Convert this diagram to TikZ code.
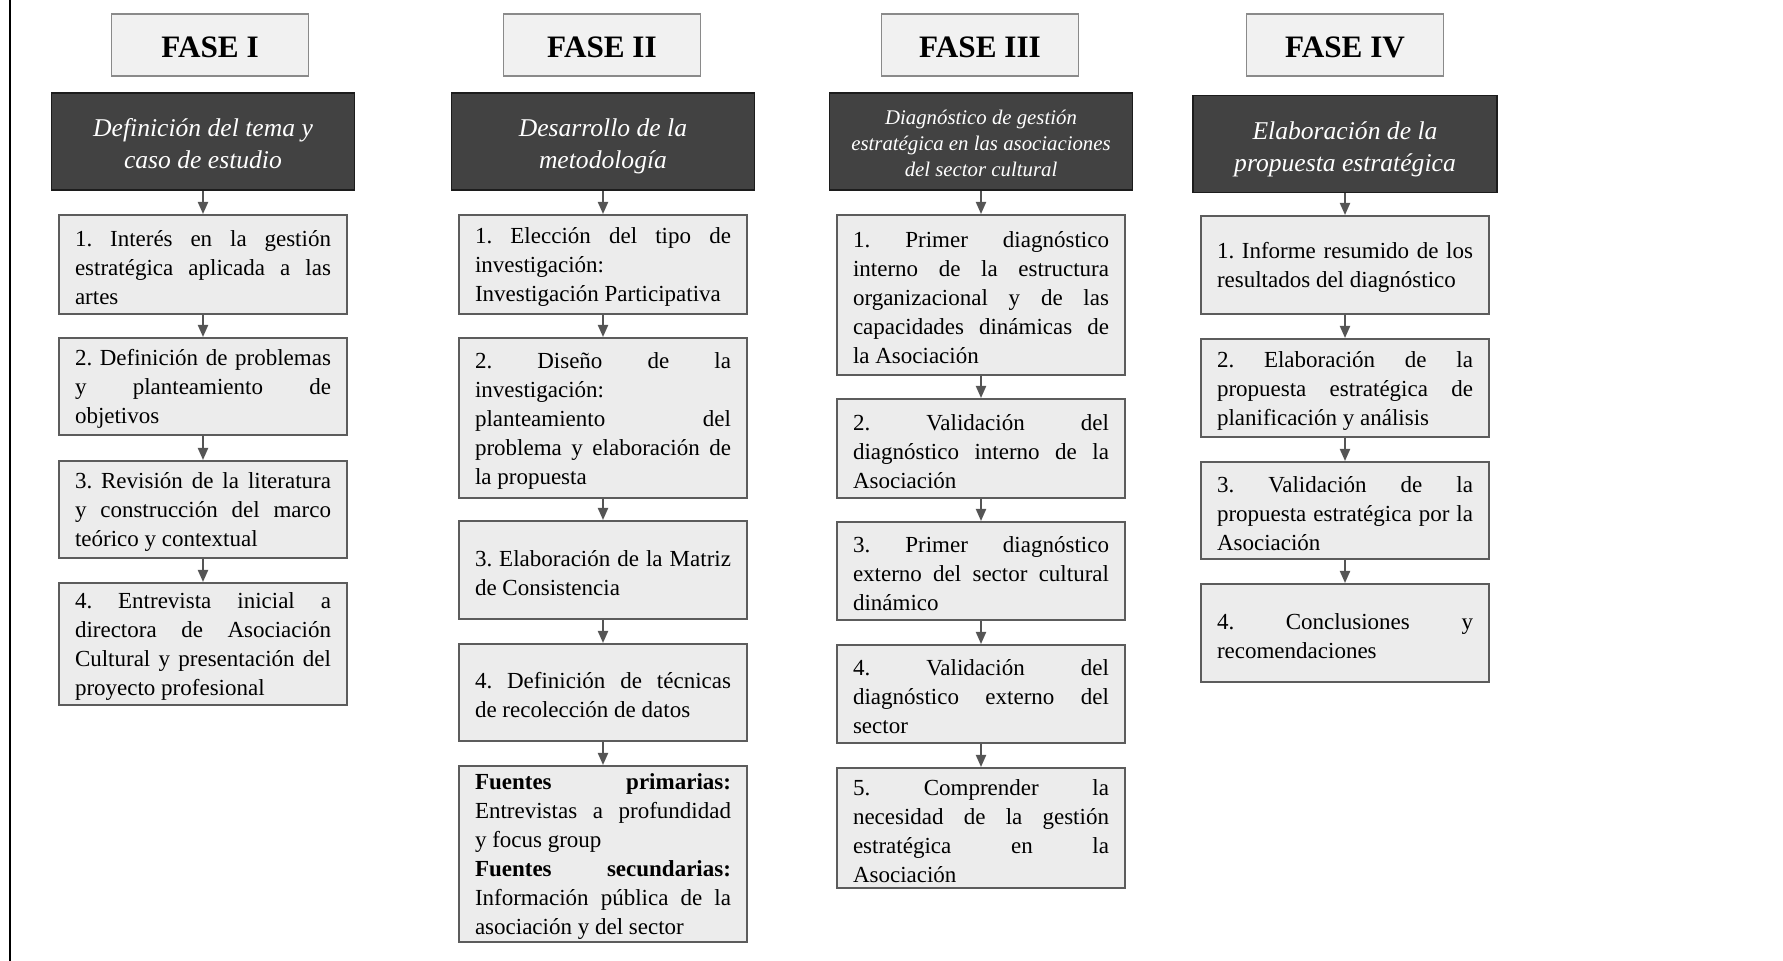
\documentclass[tikz,border=0pt]{standalone}
\usepackage{fontspec}
\setmainfont{Liberation Serif}
\usetikzlibrary{arrows.meta}

\definecolor{fasefill}{HTML}{F1F1F1}
\definecolor{fasedraw}{HTML}{8A8A8A}
\definecolor{headfill}{HTML}{424242}
\definecolor{headdraw}{HTML}{1C1C1C}
\definecolor{stepfill}{HTML}{ECECEC}
\definecolor{stepdraw}{HTML}{5C5C5C}
\definecolor{arrowcol}{HTML}{555555}

% a block of stacked lines, 128pt wide, with a little room above
\newcommand\stp[1]{\vbox{\hsize=128pt\relax\kern2.8pt #1}}
% one justified line (spaces stretched evenly) and one flush-left line
\newcommand\jline[1]{\hbox to\hsize{\frenchspacing\spaceskip=.25em plus 1fil\relax #1}}
\newcommand\lline[1]{\hbox to\hsize{#1\hfil}}
% heading text: a taller top strut sets it slightly low in its box
\newcommand\hd[1]{\rule{0pt}{\baselineskip}#1\strut}

\tikzset{
  fasebox/.style={draw=fasedraw, fill=fasefill, line width=0.8pt,
    minimum width=98.5pt, minimum height=31pt, inner sep=0pt,
    text height=12.5pt, text depth=0pt,
    font=\fontsize{15.6}{18}\selectfont\bfseries},
  headbox/.style={draw=headdraw, fill=headfill, line width=0.8pt, text=white,
    minimum width=151.5pt, minimum height=48.5pt, inner sep=0pt, align=center,
    font=\fontsize{12.8}{16}\selectfont\itshape},
  smallhead/.style={font=\fontsize{10.4}{12.8}\selectfont\itshape},
  stepbox/.style={draw=stepdraw, fill=stepfill, line width=1pt,
    minimum width=144pt, inner sep=0pt,
    font=\fontsize{11.5}{14.5}\selectfont},
  arr/.style={draw=arrowcol, line width=1pt, -{Triangle[length=6pt,width=5pt]}}
}

\begin{document}
\begin{tikzpicture}[x=0.5pt, y=-0.5pt]
\useasboundingbox (0,0) rectangle (1783,961);

% frame line on the left
\draw[line width=1.3pt] (10,0) -- (10,961);

% ---------------- Fase I ----------------
\node[fasebox] (f1) at (210,45) {FASE I};
\node[headbox] (h1) at (203,141.5) {\hd{Definición del tema y\\caso de estudio}};
\node[stepbox, minimum height=49.5pt] (a1) at (203,264.5) {\stp{%
  \jline{1. Interés en la gestión}\jline{estratégica aplicada a las}\lline{artes}}};
\node[stepbox, minimum height=48.5pt] (a2) at (203,386.5) {\stp{%
  \jline{2. Definición de problemas}\jline{y planteamiento de}\lline{objetivos}}};
\node[stepbox, minimum height=48.5pt] (a3) at (203,509.5) {\stp{%
  \jline{3. Revisión de la literatura}\jline{y construcción del marco}\lline{teórico y contextual}}};
\node[stepbox, minimum height=61pt] (a4) at (203,644) {\stp{%
  \jline{4. Entrevista inicial a}\jline{directora de Asociación}\jline{Cultural y presentación del}\lline{proyecto profesional}}};

% ---------------- Fase II ----------------
\node[fasebox] (f2) at (602,45) {FASE II};
\node[headbox] (h2) at (603,141.5) {\hd{Desarrollo de la\\metodología}};
\node[stepbox, minimum height=49.5pt] (b1) at (603,264.5) {\stp{%
  \jline{1. Elección del tipo de}\lline{investigación:}\lline{Investigación Participativa}}};
\node[stepbox, minimum height=80pt] (b2) at (603,418) {\stp{%
  \jline{2. Diseño de la}\lline{investigación:}\jline{planteamiento del}\jline{problema y elaboración de}\lline{la propuesta}}};
\node[stepbox, minimum height=49pt] (b3) at (603,570) {\stp{%
  \jline{3. Elaboración de la Matriz}\lline{de Consistencia}}};
\node[stepbox, minimum height=48.5pt] (b4) at (603,692.5) {\stp{%
  \jline{4. Definición de técnicas}\lline{de recolección de datos}}};
\node[stepbox, minimum height=88pt] (b5) at (603,854) {\stp{%
  \jline{\textbf{Fuentes primarias:}}\jline{Entrevistas a profundidad}\lline{y focus group}%
  \jline{\textbf{Fuentes secundarias:}}\jline{Información pública de la}\lline{asociación y del sector}}};

% ---------------- Fase III ----------------
\node[fasebox] (f3) at (980,45) {FASE III};
\node[headbox, smallhead] (h3) at (981,141.5) {\hd{Diagnóstico de gestión\\estratégica en las asociaciones\\del sector cultural}};
\node[stepbox, minimum height=80pt] (c1) at (981,295) {\stp{%
  \jline{1. Primer diagnóstico}\jline{interno de la estructura}\jline{organizacional y de las}\jline{capacidades dinámicas de}\lline{la Asociación}}};
\node[stepbox, minimum height=49.5pt] (c2) at (981,448.5) {\stp{%
  \jline{2. Validación del}\jline{diagnóstico interno de la}\lline{Asociación}}};
\node[stepbox, minimum height=49pt] (c3) at (981,571) {\stp{%
  \jline{3. Primer diagnóstico}\jline{externo del sector cultural}\lline{dinámico}}};
\node[stepbox, minimum height=49pt] (c4) at (981,694) {\stp{%
  \jline{4. Validación del}\jline{diagnóstico externo del}\lline{sector}}};
\node[stepbox, minimum height=60pt] (c5) at (981,828) {\stp{%
  \jline{5. Comprender la}\jline{necesidad de la gestión}\jline{estratégica en la}\lline{Asociación}}};

% ---------------- Fase IV ----------------
\node[fasebox] (f4) at (1345,45) {FASE IV};
\node[headbox, minimum width=152pt] (h4) at (1345,144) {\hd{Elaboración de la\\propuesta estratégica}};
\node[stepbox, minimum height=49pt] (d1) at (1345,265) {\stp{%
  \jline{1. Informe resumido de los}\lline{resultados del diagnóstico}}};
\node[stepbox, minimum height=49pt] (d2) at (1345,388) {\stp{%
  \jline{2. Elaboración de la}\jline{propuesta estratégica de}\lline{planificación y análisis}}};
\node[stepbox, minimum height=48.5pt] (d3) at (1345,510.5) {\stp{%
  \jline{3. Validación de la}\jline{propuesta estratégica por la}\lline{Asociación}}};
\node[stepbox, minimum height=49pt] (d4) at (1345,633) {\stp{%
  \jline{4. Conclusiones y}\lline{recomendaciones}}};

% ---------------- connectors ----------------
\foreach \u/\v in {h1/a1, a1/a2, a2/a3, a3/a4,
                   h2/b1, b1/b2, b2/b3, b3/b4, b4/b5,
                   h3/c1, c1/c2, c2/c3, c3/c4, c4/c5,
                   h4/d1, d1/d2, d2/d3, d3/d4}
  \draw[arr] (\u.south) -- (\v.north);
\end{tikzpicture}
\end{document}
